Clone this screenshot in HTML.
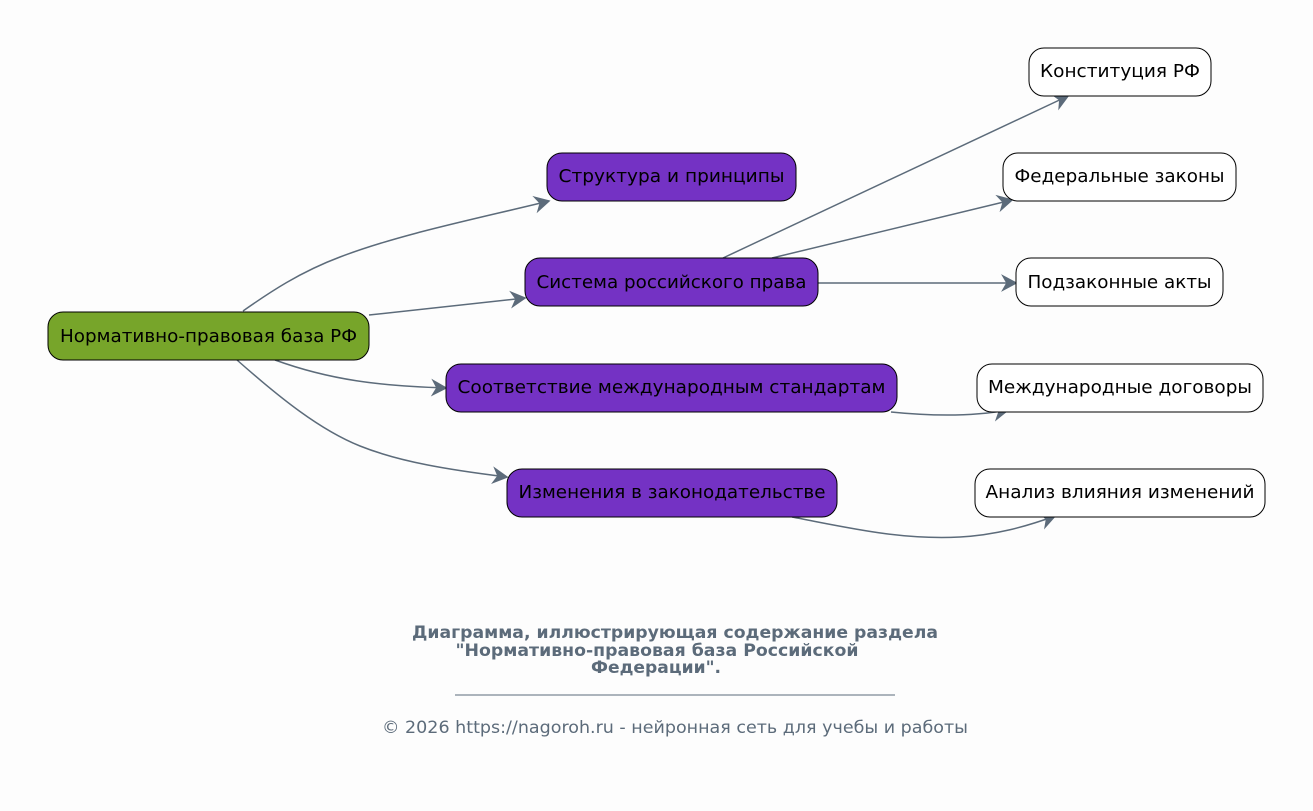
<!DOCTYPE html>
<html><head><meta charset="utf-8"><style>
html,body{margin:0;padding:0;background:#fdfdfd;}
svg{display:block;}
text{font-family:"DejaVu Sans","Liberation Sans",sans-serif;}
</style></head><body>
<svg width="1313" height="811" viewBox="0 0 1313 811" xmlns="http://www.w3.org/2000/svg">
<defs>
<marker id="a" markerUnits="userSpaceOnUse" markerWidth="30" markerHeight="30" refX="0" refY="0" viewBox="-20 -15 30 30" orient="auto">
<path d="M-13,-7 L0,0 L-13,7 L-9,0 Z" fill="#5c6b7a" stroke="#5c6b7a" stroke-width="1.5" stroke-linejoin="miter"/>
</marker>
</defs>
<rect width="1313" height="811" fill="#fdfdfd"/>
<g fill="none" stroke="#5c6b7a" stroke-width="1.5" marker-end="url(#a)">
<path d="M243,311 C270,292 300,272 340,257 C400,234 480,218 549,201"/>
<path d="M369,315 L525,298"/>
<path d="M275,360 C330,380 380,386 446,388"/>
<path d="M237,360 C280,398 320,430 360,446 C400,462 450,470 507,477"/>
<path d="M723,258 L1068,96"/>
<path d="M772,258 L1012,200"/>
<path d="M818,283 L1016,283"/>
<path d="M891,412 C930,416 970,417 1008,410"/>
<path d="M792,517 C850,528 900,540 960,537 C995,535 1025,527 1055,516"/>
</g>
<g stroke="#000" stroke-width="1">
<rect x="48" y="312" width="321" height="48" rx="15" fill="#77a52a"/>
<rect x="547" y="153" width="249" height="48" rx="15" fill="#7432c4"/>
<rect x="525" y="258" width="293" height="48" rx="15" fill="#7432c4"/>
<rect x="446" y="364" width="451" height="48" rx="15" fill="#7432c4"/>
<rect x="507" y="469" width="330" height="48" rx="15" fill="#7432c4"/>
<rect x="1029" y="48" width="182" height="48" rx="15" fill="#fff"/>
<rect x="1003" y="153" width="233" height="48" rx="15" fill="#fff"/>
<rect x="1016" y="258" width="207" height="48" rx="15" fill="#fff"/>
<rect x="977" y="364" width="286" height="48" rx="15" fill="#fff"/>
<rect x="975" y="469" width="290" height="48" rx="15" fill="#fff"/>
</g>
<g font-size="17.5" fill="#000" text-anchor="middle" lengthAdjust="spacingAndGlyphs">
<text x="208.5" y="342" textLength="297" lengthAdjust="spacingAndGlyphs">Нормативно-правовая база РФ</text>
<text x="671.5" y="182" textLength="226" lengthAdjust="spacingAndGlyphs">Структура и принципы</text>
<text x="671.5" y="288" textLength="270" lengthAdjust="spacingAndGlyphs">Система российского права</text>
<text x="671.5" y="393" textLength="428" lengthAdjust="spacingAndGlyphs">Соответствие международным стандартам</text>
<text x="672" y="498" textLength="307" lengthAdjust="spacingAndGlyphs">Изменения в законодательстве</text>
<text x="1120" y="77" textLength="160" lengthAdjust="spacingAndGlyphs">Конституция РФ</text>
<text x="1119.5" y="182" textLength="210" lengthAdjust="spacingAndGlyphs">Федеральные законы</text>
<text x="1119.5" y="288" textLength="184" lengthAdjust="spacingAndGlyphs">Подзаконные акты</text>
<text x="1120" y="393" textLength="264" lengthAdjust="spacingAndGlyphs">Международные договоры</text>
<text x="1120" y="498" textLength="269" lengthAdjust="spacingAndGlyphs">Анализ влияния изменений</text>
</g>
<g fill="#5c6b7a" text-anchor="middle" font-size="16.5">
<text x="675" y="638" font-weight="bold" textLength="526" lengthAdjust="spacingAndGlyphs">Диаграмма, иллюстрирующая содержание раздела</text>
<text x="657" y="656" font-weight="bold" textLength="403" lengthAdjust="spacingAndGlyphs">"Нормативно-правовая база Российской</text>
<text x="656" y="673" font-weight="bold" textLength="130" lengthAdjust="spacingAndGlyphs">Федерации".</text>
<line x1="455" y1="695" x2="895" y2="695" stroke="#5c6b7a" stroke-width="1"/>
<text x="675" y="733" textLength="586" lengthAdjust="spacingAndGlyphs">© 2026 https://nagoroh.ru - нейронная сеть для учебы и работы</text>
</g>
</svg>
</body></html>
